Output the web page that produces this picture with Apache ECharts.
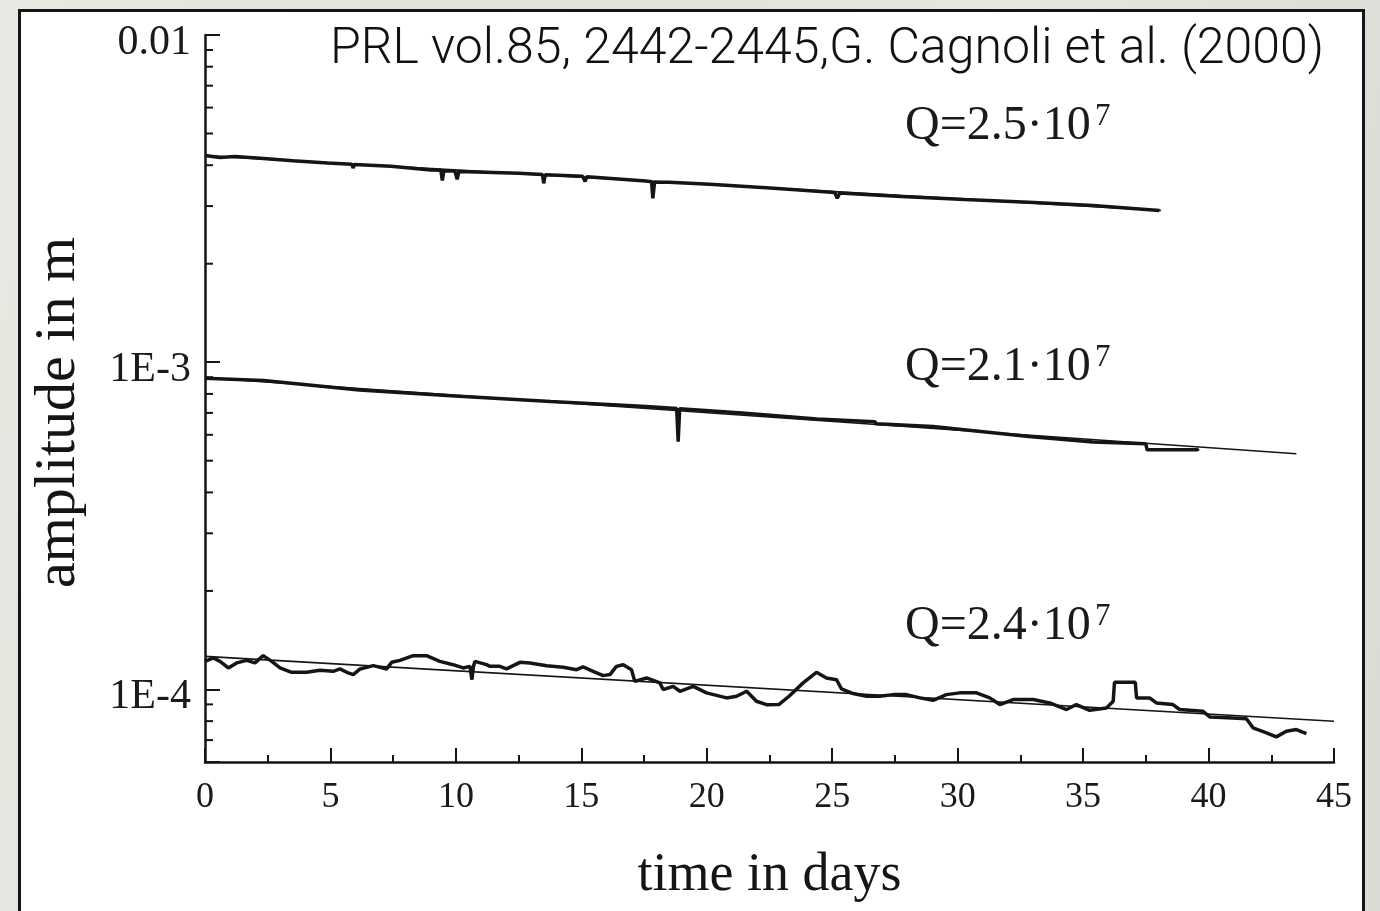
<!DOCTYPE html>
<html>
<head>
<meta charset="utf-8">
<title>Amplitude decay</title>
<script src="https://cdn.jsdelivr.net/npm/echarts@6.0.0/dist/echarts.min.js"></script>
<style>
  html, body { margin: 0; padding: 0; width: 1380px; height: 911px; overflow: hidden;
    background: linear-gradient(100deg, #e7e9e2 0%, #dfe3d9 35%, #e5e7e0 65%, #d8dcd5 100%); }
  #frame { position: absolute; left: 18px; top: 9px; width: 1341px; height: 930px;
    background: #fff; border: 3px solid #151515; }
  #main { position: absolute; left: 0; top: 0; width: 1380px; height: 911px; }
</style>
</head>
<body>
<div id="frame"></div>
<div id="main"></div>
<script>
// tick labels
var yMajorValues = [1e-4, 1e-3, 1e-2];
var yMajorLabels = ['1E-4', '1E-3', '0.01'];
var yMinorTicks = [7e-5, 8e-5, 9e-5,
  2e-4, 3e-4, 4e-4, 5e-4, 6e-4, 7e-4, 8e-4, 9e-4,
  2e-3, 3e-3, 4e-3, 5e-3, 6e-3, 7e-3, 8e-3, 9e-3];
var qLabels = ['2.5', '2.1', '2.4'];

// measured ring-down, [day, amplitude in m]
var run1 = [
  [0, 4.28e-3], [0.6, 4.22e-3], [1.2, 4.25e-3], [2.34, 4.19e-3], [3.5, 4.13e-3], [4.88, 4.06e-3],
  [5.85, 4.03e-3], [5.9, 3.92e-3], [5.95, 4.02e-3], [7.41, 3.97e-3], [9.0, 3.87e-3], [9.4, 3.86e-3],
  [9.46, 3.59e-3], [9.52, 3.85e-3], [9.96, 3.84e-3], [10.05, 3.62e-3], [10.12, 3.83e-3], [12.51, 3.78e-3],
  [13.45, 3.75e-3], [13.5, 3.52e-3], [13.56, 3.74e-3], [15.05, 3.70e-3], [15.15, 3.57e-3], [15.22, 3.69e-3],
  [17.57, 3.58e-3], [17.8, 3.56e-3], [17.85, 3.17e-3], [17.92, 3.55e-3], [18.5, 3.55e-3], [20.12, 3.50e-3],
  [22.68, 3.40e-3], [25.1, 3.30e-3], [25.2, 3.17e-3], [25.3, 3.29e-3], [27.75, 3.21e-3], [30.29, 3.14e-3],
  [32.83, 3.08e-3], [35.39, 3.01e-3], [38.04, 2.91e-3]
];
var fit1 = [[0, 4.28e-3], [38.1, 2.91e-3]];

var run2 = [
  [0, 8.94e-4], [2.34, 8.79e-4], [6.15, 8.23e-4], [9.96, 7.89e-4], [13.78, 7.58e-4], [17.59, 7.32e-4],
  [18.8, 7.22e-4], [18.86, 5.72e-4], [18.92, 7.21e-4], [21.4, 6.99e-4], [24.4, 6.70e-4], [24.45, 6.78e-4],
  [26.7, 6.58e-4], [26.75, 6.48e-4], [29.02, 6.36e-4], [32.83, 5.93e-4], [35.39, 5.70e-4], [37.5, 5.63e-4],
  [37.55, 5.40e-4], [39.55, 5.40e-4], [39.6, 5.45e-4]
];
var fit2 = [[0, 8.96e-4], [43.5, 5.25e-4]];

var run3 = [
  [0.00, 1.218e-4], [0.33, 1.248e-4], [0.60, 1.218e-4], [0.93, 1.163e-4], [1.26, 1.205e-4], [1.66, 1.227e-4],
  [1.99, 1.205e-4], [2.32, 1.268e-4], [2.66, 1.218e-4], [2.99, 1.163e-4], [3.45, 1.128e-4], [4.05, 1.128e-4],
  [4.58, 1.144e-4], [5.11, 1.136e-4], [5.38, 1.155e-4], [5.65, 1.128e-4], [5.91, 1.110e-4], [6.18, 1.155e-4],
  [6.71, 1.182e-4], [7.24, 1.155e-4], [7.44, 1.210e-4], [7.77, 1.227e-4], [8.30, 1.268e-4], [8.83, 1.268e-4],
  [9.36, 1.218e-4], [9.89, 1.190e-4], [10.29, 1.163e-4], [10.56, 1.176e-4], [10.64, 1.071e-4], [10.70, 1.176e-4],
  [10.76, 1.218e-4], [11.22, 1.190e-4], [11.36, 1.176e-4], [11.75, 1.176e-4], [12.02, 1.155e-4], [12.55, 1.210e-4],
  [12.95, 1.205e-4], [13.62, 1.182e-4], [14.28, 1.168e-4], [14.81, 1.149e-4], [15.07, 1.171e-4], [15.47, 1.136e-4],
  [15.87, 1.102e-4], [16.14, 1.110e-4], [16.40, 1.176e-4], [16.67, 1.190e-4], [17.00, 1.149e-4], [17.13, 1.058e-4],
  [17.60, 1.084e-4], [18.13, 1.047e-4], [18.26, 0.999e-4], [18.66, 1.022e-4], [18.93, 0.987e-4], [19.46, 1.022e-4],
  [19.99, 0.976e-4], [20.79, 0.942e-4], [21.19, 0.953e-4], [21.59, 0.987e-4], [21.98, 0.920e-4], [22.38, 0.898e-4],
  [22.87, 0.899e-4], [23.28, 0.953e-4], [23.84, 1.047e-4], [24.37, 1.128e-4], [24.77, 1.084e-4], [25.17, 1.071e-4],
  [25.37, 1.003e-4], [25.83, 0.971e-4], [26.37, 0.953e-4], [26.90, 0.953e-4], [27.43, 0.964e-4], [27.96, 0.964e-4],
  [28.49, 0.942e-4], [29.02, 0.926e-4], [29.55, 0.964e-4], [30.08, 0.976e-4], [30.75, 0.976e-4], [31.28, 0.942e-4],
  [31.68, 0.899e-4], [32.21, 0.931e-4], [33.01, 0.931e-4], [33.67, 0.909e-4], [34.34, 0.868e-4], [34.73, 0.899e-4],
  [35.26, 0.863e-4], [35.93, 0.878e-4], [36.20, 0.920e-4], [36.25, 1.051e-4], [37.08, 1.051e-4], [37.13, 0.942e-4],
  [37.65, 0.942e-4], [37.92, 0.909e-4], [38.58, 0.899e-4], [38.85, 0.868e-4], [39.78, 0.857e-4], [40.05, 0.824e-4],
  [40.97, 0.818e-4], [41.51, 0.813e-4], [41.77, 0.763e-4], [42.31, 0.737e-4], [42.70, 0.716e-4], [43.10, 0.745e-4],
  [43.50, 0.754e-4], [43.90, 0.733e-4]
];
var fit3 = [[0, 1.262e-4], [45, 7.99e-5]];

var ink = '#151515';
var serif = '"Liberation Serif", "Times New Roman", serif';

function dataLine(data, width) {
  return {
    type: 'line', data: data, showSymbol: false, silent: true, clip: true,
    lineStyle: { color: ink, width: width }
  };
}

// Q annotations, placed by pixel next to each curve
var qPos = [[905, 126], [905, 367], [905, 626]];
var graphics = [{
  type: 'text', x: 330, y: 50,
  style: { text: 'PRL vol.85, 2442-2445,G. Cagnoli et al. (2000)', fill: '#111',
    font: '300 50px Roboto, "Open Sans", sans-serif', verticalAlign: 'middle' }
}];
qLabels.forEach(function (q, i) {
  graphics.push({
    type: 'text', x: qPos[i][0], y: qPos[i][1],
    style: { text: 'Q=' + q + '·10', fill: '#1a1a1a', font: '48px ' + serif, verticalAlign: 'middle' }
  });
  graphics.push({
    type: 'text', x: qPos[i][0] + 190, y: qPos[i][1] - 9,
    style: { text: '7', fill: '#1a1a1a', font: '31px ' + serif, verticalAlign: 'middle' }
  });
});

var myChart = echarts.init(document.getElementById('main'));
myChart.setOption({
  animation: false,
  grid: { left: 205, right: 46, top: 35, bottom: 149 },
  xAxis: {
    type: 'value', min: 0, max: 45, interval: 5,
    name: 'time in days', nameLocation: 'middle', nameGap: 87,
    nameTextStyle: { fontFamily: serif, fontSize: 54, color: '#151515' },
    axisLine: { lineStyle: { color: ink, width: 2.5 } },
    axisTick: { inside: true, length: 14, lineStyle: { color: ink, width: 2 } },
    minorTick: { show: true, splitNumber: 2, length: 7, lineStyle: { color: ink, width: 2 } },
    axisLabel: { fontFamily: serif, fontSize: 36, color: '#1a1a1a', margin: 18 },
    splitLine: { show: false }
  },
  yAxis: {
    type: 'log', logBase: 10, min: 6e-5, max: 1e-2,
    name: 'amplitude in m', nameLocation: 'middle', nameGap: 117, nameRotate: 90,
    nameTextStyle: { fontFamily: serif, fontSize: 58, color: '#151515', padding: [0, 28, 0, 0] },
    axisLine: { show: true, lineStyle: { color: ink, width: 2.5 } },
    axisTick: { inside: true, length: 15, lineStyle: { color: ink, width: 2 } },
    axisLabel: {
      fontFamily: serif, fontSize: 42, color: '#1a1a1a', margin: 14,
      verticalAlign: 'top', lineHeight: 16,
      formatter: function (v) {
        for (var i = 0; i < yMajorValues.length; i++) {
          if (Math.abs(Math.log10(v) - Math.log10(yMajorValues[i])) < 1e-6) return yMajorLabels[i];
        }
        return '';
      }
    },
    splitLine: { show: false }
  },
  graphic: graphics,
  series: [
    dataLine(run1, 3.5), dataLine(fit1, 1.6),
    dataLine(run2, 3.5), dataLine(fit2, 1.6),
    dataLine(run3, 3.5), dataLine(fit3, 1.6),
    {
      type: 'custom', silent: true, z: 3,
      data: yMinorTicks.map(function (v) { return [0, v]; }),
      renderItem: function (params, api) {
        var p = api.coord([api.value(0), api.value(1)]);
        return {
          type: 'line',
          shape: { x1: p[0], y1: p[1], x2: p[0] + 8, y2: p[1] },
          style: { stroke: ink, lineWidth: 2 }
        };
      }
    }
  ]
});
</script>
</body>
</html>
